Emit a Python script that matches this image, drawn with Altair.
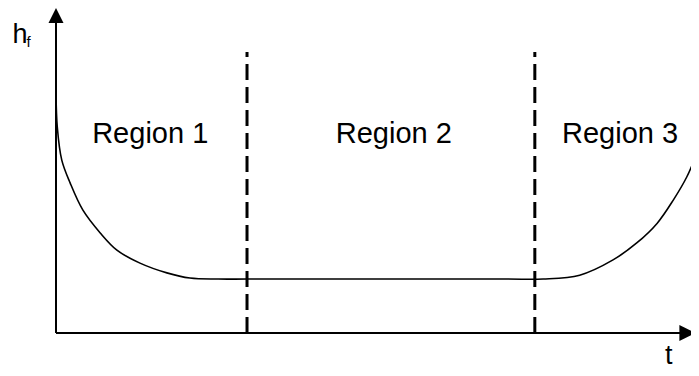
import altair as alt
import pandas as pd

# Bathtub curve (hazard rate h_f vs time t), data units 0..100
curve_t = [0, 0.2, 0.9, 2.2, 4.2, 6.9, 9.5, 13.1, 17.3, 20.9, 25.3, 30.0,
           70.0, 76.0, 81.7, 86.9, 90.6, 93.8, 96.3, 98.4, 100]
curve_h = [73.8, 63.4, 53.2, 46.2, 37.8, 30.8, 25.5, 21.5, 18.5, 16.9, 16.6, 16.6,
           16.6, 16.6, 17.8, 22.5, 27.7, 33.8, 40.9, 48.0, 55.4]

boundary_t = [29.8, 74.7]
boundary_top = [86.5, 86.5]

region_labels = ["Region 1", "Region 2", "Region 3"]
region_x = [14.7, 52.7, 88.0]
region_y = [58.5, 58.5, 58.5]

axis_x = [0, 0]
axis_y = [0, 0]
axis_x2 = [0, 99]
axis_y2 = [97, 0]

X = alt.Scale(domain=[0, 100], range=[0, 641], nice=False, zero=False)
Y = alt.Scale(domain=[0, 100], nice=False, zero=False)

curve_df = pd.DataFrame({"t": curve_t, "h": curve_h})
bound_df = pd.DataFrame({"t": boundary_t, "y0": [0, 0], "y1": boundary_top})
reg_df = pd.DataFrame({"label": region_labels, "x": region_x, "y": region_y})
axes_df = pd.DataFrame({"x": axis_x, "y": axis_y, "x2": axis_x2, "y2": axis_y2})

curve = alt.Chart(curve_df).mark_line(color="black", strokeWidth=1.6, interpolate="catmull-rom").encode(
    x=alt.X("t:Q", scale=X, axis=None),
    y=alt.Y("h:Q", scale=Y, axis=None),
)

bounds = alt.Chart(bound_df).mark_rule(color="black", strokeWidth=3, strokeDash=[16, 7]).encode(
    x=alt.X("t:Q", scale=X, axis=None),
    y=alt.Y("y0:Q", scale=Y, axis=None),
    y2="y1:Q",
)

axes = alt.Chart(axes_df).mark_rule(color="black", strokeWidth=2).encode(
    x=alt.X("x:Q", scale=X, axis=None),
    y=alt.Y("y:Q", scale=Y, axis=None),
    x2="x2:Q",
    y2="y2:Q",
)

arrow_up = alt.Chart(pd.DataFrame({"x": [0], "y": [97.7]})).mark_point(
    shape="M0,-1L1,1L-1,1Z", size=225, filled=True, color="black", opacity=1
).encode(x=alt.X("x:Q", scale=X, axis=None), y=alt.Y("y:Q", scale=Y, axis=None))

arrow_right = alt.Chart(pd.DataFrame({"x": [98.5], "y": [0]})).mark_point(
    shape="M1,0L-1,-1L-1,1Z", size=256, filled=True, color="black", opacity=1
).encode(x=alt.X("x:Q", scale=X, axis=None), y=alt.Y("y:Q", scale=Y, axis=None))

regions = alt.Chart(reg_df).mark_text(
    font="Liberation Sans", fontSize=29, color="black", align="center", baseline="alphabetic"
).encode(
    x=alt.X("x:Q", scale=X, axis=None),
    y=alt.Y("y:Q", scale=Y, axis=None),
    text="label:N",
)

h_lbl = alt.Chart(pd.DataFrame({"x": [-6.8], "y": [89.1], "s": ["h"]})).mark_text(
    font="Liberation Sans", fontSize=27, color="black", align="left", baseline="alphabetic"
).encode(x=alt.X("x:Q", scale=X, axis=None), y=alt.Y("y:Q", scale=Y, axis=None), text="s:N")

f_lbl = alt.Chart(pd.DataFrame({"x": [-4.6], "y": [88.0], "s": ["f"]})).mark_text(
    font="Liberation Sans", fontSize=15, color="black", align="left", baseline="alphabetic"
).encode(x=alt.X("x:Q", scale=X, axis=None), y=alt.Y("y:Q", scale=Y, axis=None), text="s:N")

t_lbl = alt.Chart(pd.DataFrame({"x": [95.6], "y": [-9.5], "s": ["t"]})).mark_text(
    font="Liberation Sans", fontSize=27, color="black", align="center", baseline="alphabetic"
).encode(x=alt.X("x:Q", scale=X, axis=None), y=alt.Y("y:Q", scale=Y, axis=None), text="s:N")

chart = alt.layer(curve, bounds, axes, arrow_up, arrow_right, regions, h_lbl, f_lbl, t_lbl).properties(
    width=635, height=325,
    autosize=alt.AutoSizeParams(type="none"),
    padding={"left": 48, "top": 0, "right": 0, "bottom": 35},
    background="white",
).configure_view(stroke=None)

chart.save("out.html", embed_options={"renderer": "svg", "actions": False})
